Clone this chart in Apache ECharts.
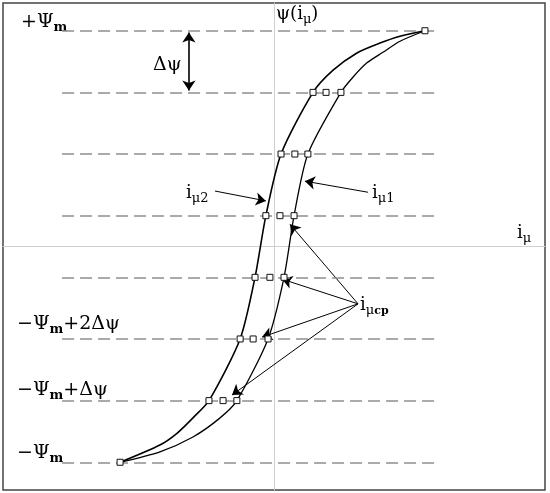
<!DOCTYPE html>
<html>
<head>
<meta charset="utf-8">
<title>ψ(iμ)</title>
<script src="https://cdn.jsdelivr.net/npm/echarts@6/dist/echarts.min.js"></script>
<style>
	html, body {
		margin: 0;
		padding: 0;
		background: #fff;
	}
	#loopContainer {
		width: 550px;
		height: 493px;
	}
</style>
</head>
<body>
<div id="loopContainer"></div>
<script>
	// flux levels in steps of Δψ (+Ψm = 3.5, −Ψm = −3.5)
	var levels = [-3.5, -2.5, -1.5, -0.5, 0.5, 1.5, 2.5, 3.5];
	// current on each branch at the levels
	var iMu2 = [-5.68, -2.40, -1.25, -0.70, -0.30, 0.26, 1.44, 5.57];
	var iMu1 = [-5.68, -1.37, -0.22, 0.37, 0.74, 1.25, 2.47, 5.57];
	// mean current, inner levels only
	var iMuCp = [-1.88, -0.77, -0.15, 0.22, 0.77, 1.92];
	// points read along the curves between the levels (current, flux)
	var iMu2Extra = [[-4.21, -3.22], [-3.58, -3.03], [-2.99, -2.78],
		[2.18, 2.86], [3.06, 3.14], [3.91, 3.30], [4.65, 3.41]];
	var iMu1Extra = [[-4.21, -3.33], [-2.99, -3.09], [-1.99, -2.78],
		[2.92, 2.75], [3.43, 2.98], [4.02, 3.15], [4.65, 3.33]];

	function branch(xs, extra) {
		var pts = xs.map(function(x, i) {
			return [x, levels[i]];
		}).concat(extra);
		pts.sort(function(a, b) {
			return a[1] - b[1];
		});
		return pts;
	}

	var markers = [];
	levels.forEach(function(v, i) {
		markers.push([iMu2[i], v]);
		if (iMu1[i] !== iMu2[i]) markers.push([iMu1[i], v]);
	});
	iMuCp.forEach(function(x, i) {
		markers.push([x, levels[i + 1]]);
	});

	// annotation arrows (data coords)
	var cpFrom = [3.10, -0.93];
	var arrows = [
		{coords: [[-2.18, 0.90], [-0.30, 0.74]]},
		{coords: [[3.47, 0.88], [1.14, 1.06]]},
		{coords: [cpFrom, [0.59, 0.36]]},
		{coords: [cpFrom, [0.30, -0.53]]},
		{coords: [cpFrom, [-0.44, -1.47]]},
		{coords: [cpFrom, [-1.55, -2.41]]}
	];

	var F = '"DejaVu Serif", "Liberation Serif", serif';
	var rich = {
		n: {fontSize: 19, lineHeight: 24, fontFamily: F, color: '#111'},
		s: {fontSize: 13, fontWeight: 'bold', lineHeight: 10, fontFamily: F, color: '#111', verticalAlign: 'bottom'},
		i: {fontSize: 18, lineHeight: 24, fontFamily: F, color: '#111'},
		u: {fontSize: 13, lineHeight: 11, fontFamily: F, color: '#111', verticalAlign: 'bottom'},
		c: {fontSize: 11, fontWeight: 'bold', lineHeight: 9, fontFamily: F, color: '#111', verticalAlign: 'bottom'}
	};

	function txt(x, y, text) {
		return {
			type: 'text',
			x: x,
			y: y,
			silent: true,
			style: {
				text: text,
				rich: rich,
				verticalAlign: 'middle'
			}
		};
	}

	var myChart = echarts.init(document.getElementById('loopContainer'));

	var option = {
		animation: false,
		grid: {
			left: 3,
			top: 3,
			right: 5,
			bottom: 3,
			show: true,
			borderColor: '#444',
			borderWidth: 1.5
		},
		xAxis: {
			type: 'value',
			min: -10,
			max: 10,
			axisLine: {
				onZero: true,
				lineStyle: {color: '#cfcfcf', width: 1}
			},
			axisTick: {show: false},
			axisLabel: {show: false},
			splitLine: {show: false}
		},
		yAxis: {
			type: 'value',
			min: -3.95,
			max: 3.95,
			axisLine: {
				onZero: true,
				lineStyle: {color: '#cfcfcf', width: 1}
			},
			axisTick: {show: false},
			axisLabel: {show: false},
			splitLine: {show: false}
		},
		series: [{
				name: 'iμ2',
				type: 'line',
				data: branch(iMu2, iMu2Extra),
				smooth: 0.25,
				showSymbol: false,
				lineStyle: {color: '#000', width: 1.6},
				z: 3,
				markLine: {
					silent: true,
					symbol: 'none',
					label: {show: false},
					lineStyle: {color: '#8e8e8e', width: 1.5, type: [12, 6]},
					data: levels.map(function(v) {
						return [{coord: [-7.82, v]}, {coord: [6.13, v]}];
					})
				}
			},
			{
				name: 'iμ1',
				type: 'line',
				data: branch(iMu1, iMu1Extra),
				smooth: 0.25,
				showSymbol: false,
				lineStyle: {color: '#000', width: 1.3},
				z: 3
			},
			{
				name: 'arrows',
				type: 'lines',
				coordinateSystem: 'cartesian2d',
				symbol: ['none', 'arrow'],
				symbolSize: 10,
				lineStyle: {color: '#000', width: 1, opacity: 1},
				data: arrows,
				z: 4
			},
			{
				name: 'Δψ',
				type: 'lines',
				coordinateSystem: 'cartesian2d',
				symbol: ['arrow', 'arrow'],
				symbolSize: 10,
				lineStyle: {color: '#000', width: 1.6, opacity: 1},
				data: [{coords: [[-3.14, 3.47], [-3.14, 2.53]]}],
				z: 4
			},
			{
				name: 'points',
				type: 'scatter',
				data: markers,
				symbol: 'rect',
				symbolSize: 6,
				itemStyle: {color: '#fff', borderColor: '#111', borderWidth: 1, opacity: 1},
				z: 5
			}
		],
		graphic: [
			txt(21, 22, '{n|+Ψ}{s|m}'),
			txt(153, 65, '{n|Δψ}'),
			txt(276, 14, '{i|ψ(i}{u|μ}{i|)}'),
			txt(517, 233, '{i|i}{u|μ}'),
			txt(186, 193, '{i|i}{u|μ2}'),
			txt(372, 193, '{i|i}{u|μ1}'),
			txt(360, 305, '{i|i}{u|μ}{c|cp}'),
			txt(17, 324, '{n|−Ψ}{s|m}{n|+2Δψ}'),
			txt(17, 390, '{n|−Ψ}{s|m}{n|+Δψ}'),
			txt(17, 453, '{n|−Ψ}{s|m}')
		]
	};

	myChart.setOption(option);
</script>
</body>
</html>
